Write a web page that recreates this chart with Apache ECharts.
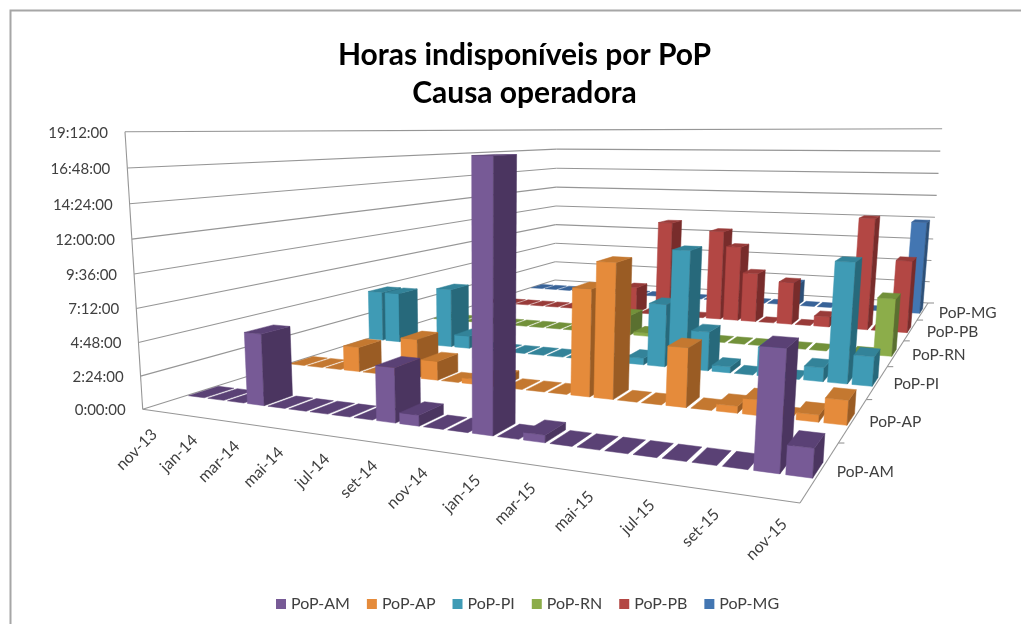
<!DOCTYPE html>
<html><head><meta charset="utf-8"><style>html,body{margin:0;padding:0;background:#fff}#c{width:1021px;height:624px}</style>
<script src="https://cdn.jsdelivr.net/npm/echarts@6/dist/echarts.min.js"></script></head><body><div id="c"></div>
<script>
const months=['nov-13','dez-13','jan-14','fev-14','mar-14','abr-14','mai-14','jun-14','jul-14','ago-14','set-14','out-14','nov-14','dez-14','jan-15','fev-15','mar-15','abr-15','mai-15','jun-15','jul-15','ago-15','set-15','out-15','nov-15'];
const pops=['PoP-AM','PoP-AP','PoP-PI','PoP-RN','PoP-PB','PoP-MG'];
const valueTicks=['0:00:00','2:24:00','4:48:00','7:12:00','9:36:00','12:00:00','14:24:00','16:48:00','19:12:00'];
// hours unavailable per month
const popAM=[0,0,0,5.2,0,0,0,0,0,3.8,0.75,0,0,17.7,0,0.5,0,0,0,0,0,0,0,7.3,1.75];
const popAP=[0,0,0,2.0,0,0,3.1,1.5,0,0.4,0.6,0,0,0,8.0,10.0,0,0,4.3,0,0.5,1.1,0,0.5,1.7];
const popPI=[4.5,4.5,0,0,5.2,1.1,0,0,0,0,0,0,0,0,0.55,5.2,9.7,3.2,0.5,0,2.3,0,1.1,9.4,2.3];
const popRN=[0,0,0,0,0,0,0,0,0,0,0,1.9,0.3,0,0,0,0,0,0,0,0,0,0,0,5.0];
const popPB=[0,0,0,0,0,0,0,0,0,2.7,0,9.7,0,0,9.0,7.5,4.9,0,4.2,0,1.0,0,10.8,0,6.9];
const popMG=[0,0,0,0,0,0,0,0,0,0,0,0,0,0,0,0,0,2.4,0,0,0,0,0,0,9.6];
const rows=[popAM,popAP,popPI,popRN,popPB,popMG];
const pal=[['#775A96','#4B3560','#5A4175'],['#E58B3B','#9A5C24','#C47830'],['#3F9BB5','#27697B','#338399'],['#8CAD4A','#5A7030','#72913A'],['#B34744','#782C2B','#983B39'],['#4376B2','#2D5078','#386398']];
const Q=[[142.7,409.3],[800,503],[928,303],[555,280]],VP=[485,5777],TOP=131.7;
const [p0,p1,p2,p3]=Q;
const dx1=p1[0]-p2[0],dx2=p3[0]-p2[0],sx=p0[0]-p1[0]+p2[0]-p3[0],dy1=p1[1]-p2[1],dy2=p3[1]-p2[1],sy=p0[1]-p1[1]+p2[1]-p3[1];
const D=dx1*dy2-dx2*dy1,g=(sx*dy2-dx2*sy)/D,hh=(dx1*sy-sx*dy1)/D;
const A=p1[0]-p0[0]+g*p1[0],B=p3[0]-p0[0]+hh*p3[0],C=p0[0],E=p1[1]-p0[1]+g*p1[1],F=p3[1]-p0[1]+hh*p3[1],G=p0[1];
const gam=(TOP-G)/(VP[1]-TOP);
function pr(u,v,t){const w=g*u+hh*v+1+gam*t;return [(A*u+B*v+C+gam*VP[0]*t)/w,(E*u+F*v+G+gam*VP[1]*t)/w];}
const BW=0.82,BD=0.27;
function mk(s){return {type:'custom',name:pops[s],z:10-s,data:rows[s].map((v,i)=>[i,v]),itemStyle:{color:pal[s][0]},
 renderItem(p,api){const rc=p.coordSys,c=api.coord([api.value(0),api.value(1)]),u=(c[0]-rc.x)/rc.width,t=(rc.y+rc.height-c[1])/rc.height,hw=api.size([1,0])[0]/rc.width*BW/2,v=(s+.5)/6,hd=BD/12;
 const u0=u-hw,u1=u+hw,v0=v-hd,v1=v+hd,P=(pts,col)=>({type:'polygon',shape:{points:pts},style:{fill:col,stroke:col,lineWidth:.5}});
 const ch=[];if(t>0){ch.push(P([pr(u0,v0,0),pr(u1,v0,0),pr(u1,v0,t),pr(u0,v0,t)],pal[s][0]));ch.push(P([pr(u1,v0,0),pr(u1,v1,0),pr(u1,v1,t),pr(u1,v0,t)],pal[s][1]));}
 ch.push(P([pr(u0,v0,t),pr(u1,v0,t),pr(u1,v1,t),pr(u0,v1,t)],pal[s][2]));
 return {type:'group',children:ch};}};}
const LC='#969696',TX='#404040';
const L=(a,b)=>({type:'line',shape:{x1:a[0],y1:a[1],x2:b[0],y2:b[1]},style:{stroke:LC,lineWidth:1.1}});
const frame={type:'custom',z:1,silent:true,data:[[0,0]],renderItem(p,api){const ch=[];
 valueTicks.forEach((tk,k)=>{const t=k/8;ch.push(L(pr(0,0,t),pr(0,1,t)),L(pr(0,1,t),pr(1,1,t)));const a=pr(0,0,t);ch.push({type:'text',style:{x:a[0]-17,y:a[1]+1,text:tk,align:'right',verticalAlign:'middle',fontFamily:'Lato',fontSize:15,fill:TX}});});
 ch.push(L(pr(0,0,0),pr(0,0,1)),L(pr(0,0,0),pr(1,0,0)),L(pr(1,0,0),pr(1,1,0)));
 months.forEach((m,i)=>{if(i%2)return;const a=pr((i+.5)/months.length,0,0);ch.push({type:'text',x:a[0]+2,y:a[1]+21,rotation:Math.PI/4,style:{x:0,y:0,text:m,align:'right',verticalAlign:'middle',fontFamily:'Lato',fontSize:16,fill:TX}});});
 pops.forEach((n,s)=>{const a=pr(1,(s+.5)/6,0);ch.push({type:'text',style:{x:a[0]+16,y:a[1]+2,text:n,align:'left',verticalAlign:'middle',fontFamily:'Lato',fontSize:15.5,fill:TX}});});
 for(let k=1;k<=6;k++){const a=pr(1,k/6,0);ch.push(L(a,[a[0]+6,a[1]]));}
 return {type:'group',children:ch};}};
const chart=echarts.init(document.getElementById('c'),null,{renderer:'canvas'});
chart.setOption({animation:false,backgroundColor:'#fff',grid:{left:0,right:0,top:0,bottom:0},
 title:{text:'Horas indisponíveis por PoP\nCausa operadora',left:519.5,top:31,textAlign:'center',textStyle:{fontFamily:'Lato',fontWeight:'bold',fontSize:30,lineHeight:38,color:'#000'}},
 graphic:[{type:'polyline',silent:true,shape:{points:[[10.5,624],[10.5,10.5],[1021,10.5]]},style:{stroke:'#a6a6a6',lineWidth:2,fill:null}}],
 xAxis:{type:'category',data:months,show:false},yAxis:{type:'value',min:0,max:19.2,interval:2.4,show:false},
 legend:{data:pops,left:271,top:591,icon:'rect',itemWidth:10,itemHeight:10,itemGap:17,textStyle:{fontFamily:'Lato',fontSize:16,color:TX}},
 series:[frame].concat(pops.map((n,s)=>mk(s)))});
</script></body></html>
